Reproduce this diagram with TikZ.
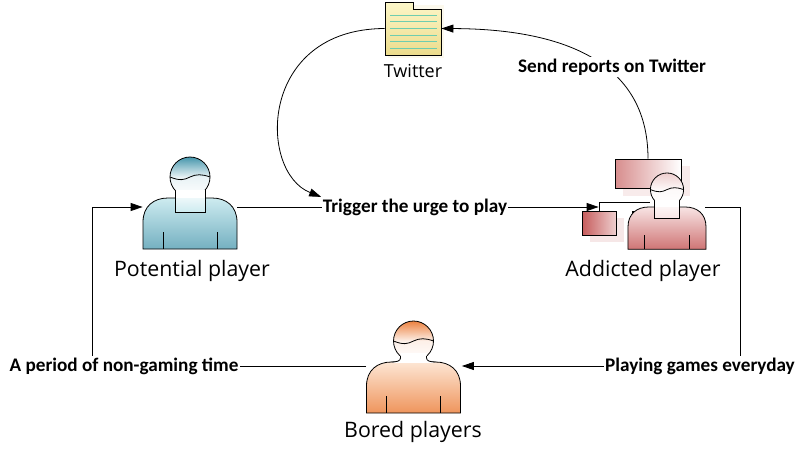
\documentclass[tikz,border=0pt]{standalone}
\usepackage{fontspec}
\setmainfont{Open Sans}
\newfontfamily\labelfont{Carlito}
\usetikzlibrary{arrows.meta}

\definecolor{potlight}{RGB}{205,235,240}
\definecolor{potdark}{RGB}{70,150,172}
\definecolor{addlight}{RGB}{248,228,228}
\definecolor{adddark}{RGB}{198,92,92}
\colorlet{addhead}{adddark!30}
\definecolor{borlight}{RGB}{253,230,212}
\definecolor{bordark}{RGB}{236,130,64}
\definecolor{paper}{RGB}{252,246,200}
\definecolor{paperdark}{RGB}{236,220,140}
\definecolor{ruled}{RGB}{110,205,175}

% player icon: x, y of shoulders, scale, body light, body dark, head colour, neck (1 = box)
\newcommand{\playericon}[7]{%
  \begin{scope}[shift={(#1,#2)}, scale=#3]
    \draw[top color=#4, bottom color=#5] (-47,51) -- (-47,24) .. controls (-47,8) and (-36,0) .. (-22,0)
      -- (22,0) .. controls (36,0) and (47,8) .. (47,24) -- (47,51) -- cycle;
    \draw (-27,34) -- (-27,51) (27,34) -- (27,51);
    \ifnum#7=1
      \draw[top color=white, bottom color=#4] (-15,-8) rectangle (15,14);
      \draw[top color=#6, bottom color=white, middle color=#6!12] (0,-21) circle (20);
      \fill[white] (-14.5,-8) rectangle (14.5,-0.4);
    \else
      \draw[top color=#6, bottom color=white, middle color=#6!12] (0,-21) circle (20);
      \fill[white] (-13,-9) -- (-13,-4) .. controls (-13,-1) and (-17,0) .. (-22,0.8)
        -- (22,0.8) .. controls (17,0) and (13,-1) .. (13,-4) -- (13,-9) -- cycle;
      \draw (-13,-6) -- (-13,-4) .. controls (-13,-1) and (-17,0) .. (-22,0);
      \draw (13,-6) -- (13,-4) .. controls (13,-1) and (17,0) .. (22,0);
    \fi
    \draw (-20,-21) .. controls (-10,-17) and (-6,-18) .. (0,-21) .. controls (6,-24) and (12,-24) .. (20,-21);
  \end{scope}}

\begin{document}
\begin{tikzpicture}[x=0.75pt, y=-0.75pt, line width=0.6pt,
  >={Triangle[length=9pt,width=6pt]},
  port/.style={inner sep=0pt, minimum height=0pt},
  title/.style={font=\fontsize{16}{18}\selectfont},
  lbl/.style={fill=white, inner sep=1pt, font=\labelfont\bfseries\fontsize{14.4}{16}\selectfont}]

\useasboundingbox (0,0) rectangle (806,461);

% Twitter
\fill[paperdark!40, opacity=0.4] (388,5) rectangle (444,58);
\draw[top color=paper, bottom color=paperdark] (385,2) -- (413,2) -- (413,9) -- (441,9) -- (441,55) -- (385,55) -- cycle;
\draw[ruled] (390,15) -- (437,15);
\draw[ruled] (390,21.5) -- (437,21.5);
\draw[ruled] (390,28) -- (437,28);
\draw[ruled] (390,35) -- (437,35);
\draw[ruled] (390,41.5) -- (437,41.5);
\draw[ruled] (390,48) -- (437,48);
\node[port, minimum width=42pt, minimum height=40pt] (twitter) at (413,28.5) {};
\node[title, font=\fontsize{13.5}{15}\selectfont] (twitterlabel) at (413,71) {Twitter};

% potential player
\playericon{190}{198}{1}{potlight}{potdark!75}{potdark}{1}
\node[port, minimum width=70.5pt] (potential) at (190,207) {};
\node[title] (potentiallabel) at (192,271) {Potential player};

% addicted player
\fill[adddark!12] (623,166) rectangle (690,196);
\node[draw, minimum width=49.5pt, minimum height=21.75pt, left color=adddark!70, right color=white] (monitor) at (648,173.5) {};
\fill[adddark!15] (590,218) rectangle (624,242);
\draw[left color=adddark, right color=adddark!30] (582,211) rectangle (616,235);
\draw[left color=adddark!80, right color=adddark!30] (632,211) rectangle (666,235);
\draw (599,211) -- (599,202) -- (650,202);
\playericon{667}{207}{0.83}{addlight}{adddark!85}{addhead}{1}
\node[port, minimum width=79.5pt] (addicted) at (652,207) {};
\node[title] (addictedlabel) at (643,271) {Addicted player};

% bored players
\playericon{413.5}{362}{1}{borlight}{bordark!85}{bordark}{0}
\node[port, minimum width=71.25pt] (bored) at (414,366) {};
\node[title] (boredlabel) at (413,432) {Bored players};

% loop
\draw[->] (potential.east) -- (addicted.west);
\node[lbl] (trigger) at (415,207) {Trigger the urge to play};
\draw[->] (addicted.east) -- ++(35,0) |- (bored.east);
\node[lbl] (playing) at (700,366) {Playing games everyday};
\draw[->] (bored.west) -- ++(-274,0) |- (potential.west);
\node[lbl] (nongaming) at (124,366) {A period of non-gaming time};

% twitter
\draw[->] (monitor.north) .. controls (648,60) and (560,29) .. (twitter.east);
\node[lbl] (reports) at (612,67) {Send reports on Twitter};
\draw[->] (twitter.west) .. controls (258,29) and (258,172) .. (trigger.north west);

\end{tikzpicture}
\end{document}
